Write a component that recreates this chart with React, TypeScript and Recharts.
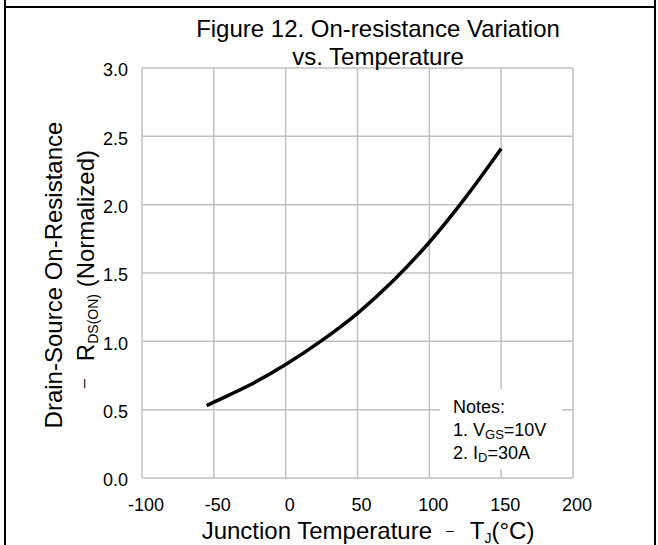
import React from "react";
import { LineChart, Line, XAxis, YAxis, CartesianGrid, Label } from "recharts";

// junction temperature (°C) and normalized RDS(ON)
const temps = [-55, -50, -25, 0, 25, 50, 75, 100, 125, 150];
const rdsOn = [0.53, 0.555, 0.68, 0.83, 1.005, 1.205, 1.445, 1.725, 2.05, 2.41];

const xTicks = [-100, -50, 0, 50, 100, 150, 200];
const yTicks = [0, 0.5, 1.0, 1.5, 2.0, 2.5, 3.0];

const titleLines = ["Figure 12. On-resistance Variation", "vs. Temperature"];

const data = temps.map((t, i) => ({ t, r: rdsOn[i] }));

const FONT = '"Liberation Sans", Arial, sans-serif';

function XTitle() {
  return (
    <text x={368} y={539} textAnchor="middle" fontSize={24} fill="#000" fontFamily={FONT}>
      Junction Temperature
      <tspan dx={14} dy={-4} fontSize={14}>–</tspan>
      <tspan dx={16} dy={4} fontSize={24}>T</tspan>
      <tspan fontSize={14} dy={4}>J</tspan>
      <tspan fontSize={24} dy={-4}>(°C)</tspan>
    </text>
  );
}

function YTitle() {
  return (
    <g fontFamily={FONT} fill="#000">
      <text x={62} y={275} transform="rotate(-90, 62, 275)" textAnchor="middle" fontSize={24}>
        Drain-Source On-Resistance
      </text>
      <text x={94} y={269} transform="rotate(-90, 94, 269)" textAnchor="middle" fontSize={24}>
        <tspan fontSize={16} dy={-5}>–</tspan>
        <tspan dx={18} dy={5}>R</tspan>
        <tspan fontSize={14} dy={4}>DS(ON)</tspan>
        <tspan dy={-4}> (Normalized)</tspan>
      </text>
    </g>
  );
}

export default function App() {
  return (
    <div
      style={{
        position: "absolute",
        left: 0,
        top: 0,
        width: 658,
        height: 545,
        background: "#fff",
        fontFamily: FONT,
      }}
    >
      <LineChart
        width={658}
        height={545}
        data={data}
        margin={{ top: 68, right: 85, bottom: 27, left: 0 }}
      >
        <CartesianGrid stroke="#c0c0c0" strokeWidth={1.5} />
        <XAxis
          dataKey="t"
          type="number"
          domain={[-100, 200]}
          ticks={xTicks}
          height={40}
          axisLine={false}
          tickLine={false}
          tickSize={0}
          tickMargin={20}
          tick={{ fontSize: 18, fill: "#000", fontFamily: FONT, dx: 4 }}
        >
          <Label content={<XTitle />} />
        </XAxis>
        <YAxis
          type="number"
          domain={[0, 3]}
          ticks={yTicks}
          width={142}
          axisLine={false}
          tickLine={false}
          tickSize={0}
          tickMargin={14}
          tickFormatter={(v: number) => v.toFixed(1)}
          tick={{ fontSize: 18, fill: "#000", fontFamily: FONT, dy: 2 }}
        >
          <Label content={<YTitle />} />
        </YAxis>
        <Line
          dataKey="r"
          type="monotone"
          stroke="#000"
          strokeWidth={3.5}
          dot={false}
          isAnimationActive={false}
        />
      </LineChart>

      <svg
        width={658}
        height={545}
        style={{ position: "absolute", left: 0, top: 0, pointerEvents: "none" }}
      >
        <line x1={5} y1={0} x2={5} y2={545} stroke="#000" strokeWidth={2} />
        <line x1={655} y1={0} x2={655} y2={545} stroke="#000" strokeWidth={2} />
        <line x1={5} y1={7} x2={655} y2={7} stroke="#000" strokeWidth={2} />

        {titleLines.map((s, i) => (
          <text key={s} x={378} y={37 + i * 28} textAnchor="middle" fontSize={24} fill="#000" fontFamily={FONT}>
            {s}
          </text>
        ))}

        <rect x={440} y={389} width={122} height={80} fill="#fff" />
        <g fontSize={18} fill="#000" fontFamily={FONT}>
          <text x={453} y={413}>Notes:</text>
          <text x={453} y={436}>
            1. V<tspan fontSize={13} dy={3}>GS</tspan>
            <tspan dy={-3}>=10V</tspan>
          </text>
          <text x={453} y={459}>
            2. I<tspan fontSize={13} dy={3}>D</tspan>
            <tspan dy={-3}>=30A</tspan>
          </text>
        </g>
      </svg>
    </div>
  );
}
